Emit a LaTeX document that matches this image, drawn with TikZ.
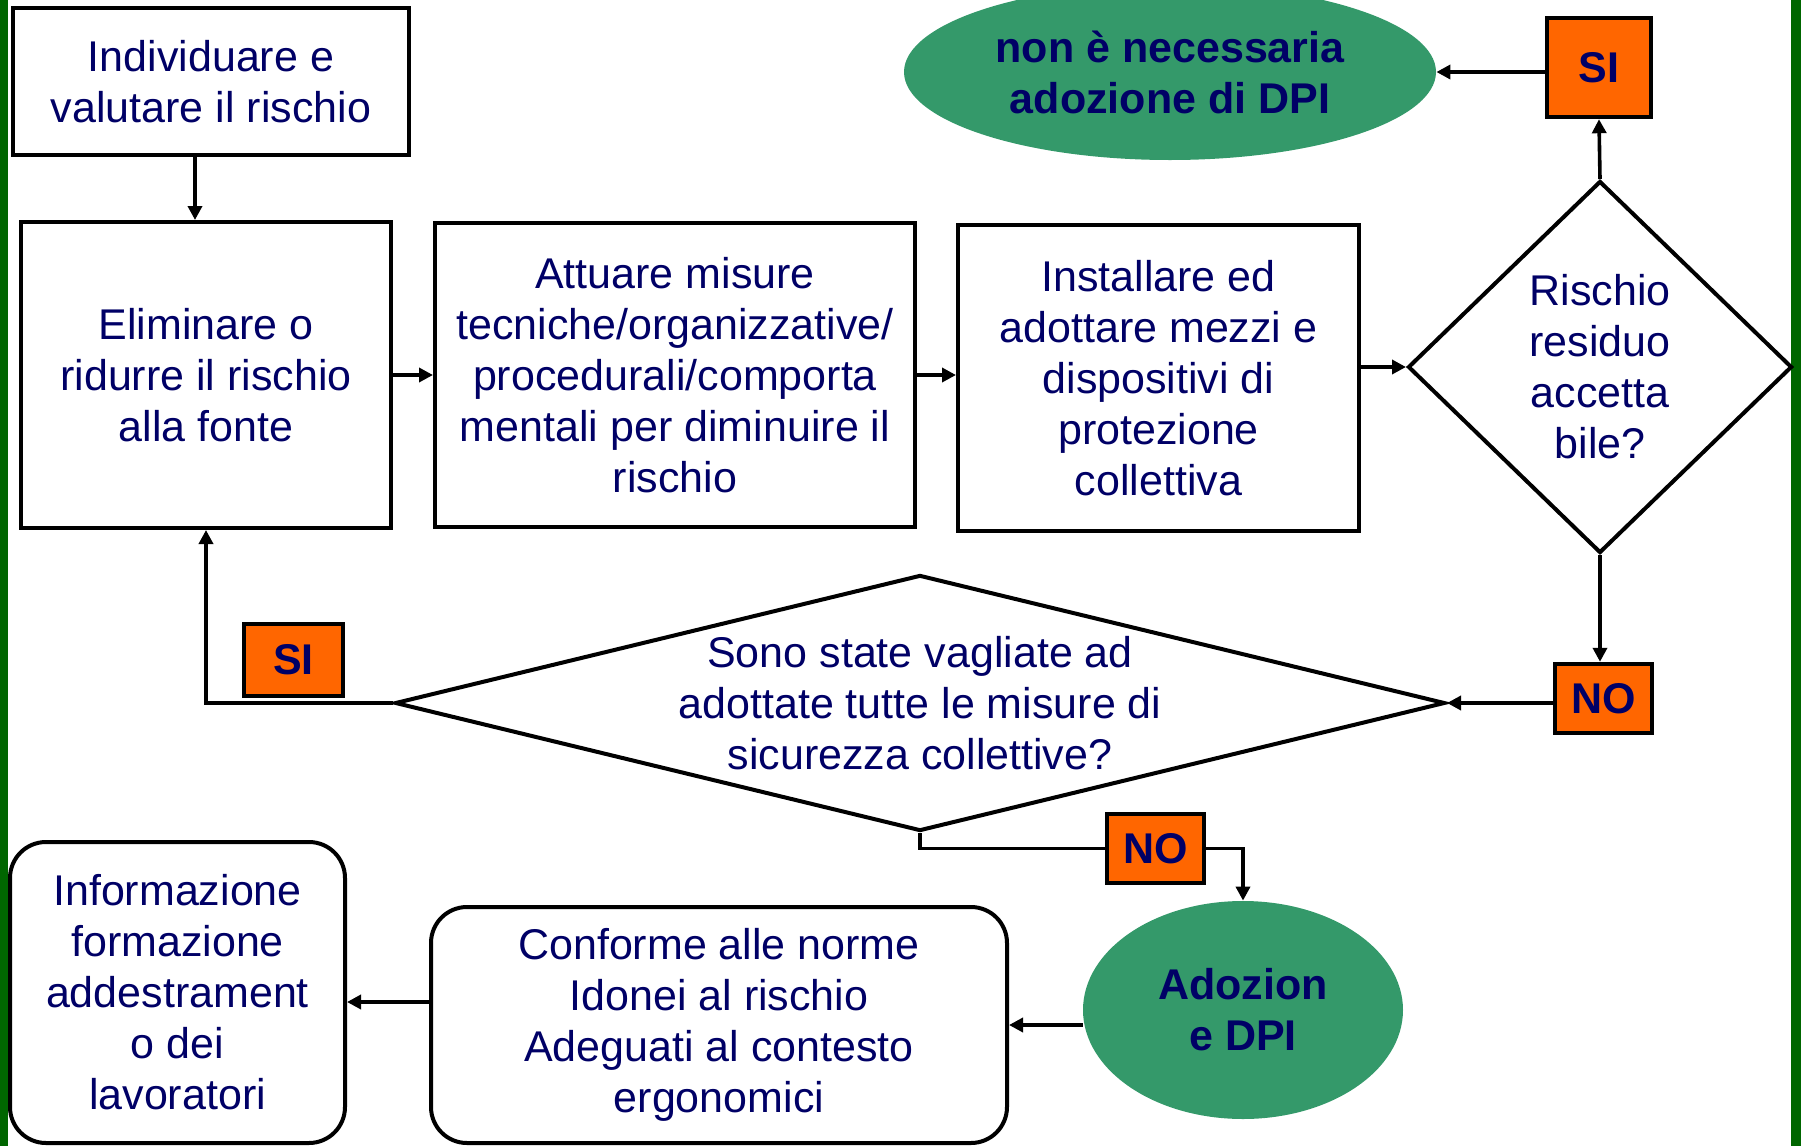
\documentclass[tikz,border=0pt]{standalone}
\usepackage{fontspec}
\setmainfont{Liberation Sans}
\usepackage{xcolor}
\usetikzlibrary{calc,arrows.meta,shapes.geometric}
\definecolor{riskNavy}{RGB}{0,0,102}
\definecolor{riskGreen}{RGB}{52,153,106}
\definecolor{riskOrange}{RGB}{255,102,0}
\definecolor{riskFrame}{RGB}{0,102,0}

\begin{document}
\begin{tikzpicture}[x=0.5pt,y=-0.5pt,
    txt/.style={text=riskNavy, font=\fontsize{21.5}{25.5}\selectfont, align=center},
    boldtxt/.style={txt, font=\fontsize{21.5}{25.5}\selectfont\bfseries},
    stepbox/.style={txt, draw, line width=2pt, inner sep=0pt},
    roundbox/.style={stepbox, rounded corners=18pt},
    choice/.style={txt, draw, shape=diamond, line width=2pt, inner sep=0pt},
    outcome/.style={boldtxt, shape=ellipse, fill=riskGreen, inner sep=0pt},
    answer/.style={boldtxt, draw, fill=riskOrange, line width=2.2pt, inner sep=0pt},
    link/.style={line width=1.8pt, -{Triangle[length=7pt,width=7pt]}},
    wire/.style={line width=1.8pt}]
    \useasboundingbox (0,0) rectangle (1801,1146);
    \fill[riskFrame] (0,0) rectangle (8,1146);
    \fill[riskFrame] (1791,0) rectangle (1801,1146);

    \node[stepbox, minimum width=198pt, minimum height=73.5pt] (ind) at (211,81.5) {Individuare e\\valutare il rischio};
    \node[stepbox, minimum width=185pt, minimum height=153pt] (elim) at (206,375) {Eliminare o\\ridurre il rischio\\alla fonte};
    \node[stepbox, minimum width=240pt, minimum height=152pt] (att) at (675,375) {Attuare misure\\tecniche/organizzative/\\procedurali/comporta\\mentali per diminuire il\\rischio};
    \node[stepbox, minimum width=200.5pt, minimum height=153pt] (inst) at (1158.5,378) {Installare ed\\adottare mezzi e\\dispositivi di\\protezione\\collettiva};
    \node[choice, minimum width=192pt, minimum height=186pt] (ris) at (1600,367) {Rischio\\residuo\\accetta\\bile?};

    \node[answer, minimum width=52pt, minimum height=49.5pt] (sitop) at (1599,67.5) {SI};
    \node[outcome, minimum width=266pt, minimum height=88pt] (nonnec) at (1170,72) {non è necessaria\\adozione di DPI};

    \node[answer, minimum width=48.5pt, minimum height=34.5pt] (noright) at (1603.5,698.5) {NO};
    \node[choice, minimum width=525pt, minimum height=128pt,
        label={[txt]center:Sono state vagliate ad\\adottate tutte le misure di\\sicurezza collettive?}] (sono) at (920,703) {};
    \node[answer, minimum width=49.5pt, minimum height=36pt] (sileft) at (293.5,660) {SI};
    \node[answer, minimum width=48.5pt, minimum height=34.5pt] (nobot) at (1155.5,848.5) {NO};

    \node[outcome, minimum width=160pt, minimum height=109pt] (adoz) at (1243,1010) {Adozion\\e DPI};
    \node[roundbox, minimum width=288pt, minimum height=118pt] (conf) at (719,1025) {Conforme alle norme\\Idonei al rischio\\Adeguati al contesto\\ergonomici};
    \node[roundbox, minimum width=167.5pt, minimum height=150.5pt] (info) at (177.5,992.5) {Informazione\\formazione\\addestrament\\o dei\\lavoratori};

    \draw[link] ([xshift=-8pt]ind.south) -- ([xshift=-8pt]ind.south |- elim.north);
    \draw[link] (elim) -- (att);
    \draw[link] (att.east) -- (att.east -| inst.west);
    \draw[link] (ris.west -| inst.east) -- (ris.west);
    \draw[link] (ris.north) -- (sitop.south);
    \draw[link] (sitop.west |- nonnec.east) -- (nonnec.east);
    \draw[link] (ris.south) -- (ris.south |- noright.north);
    \draw[link] (noright.west |- sono.east) -- (sono.east);
    \draw[link] (sono.west) -| (elim.south);
    \draw[wire] (sono.south) |- (nobot.west);
    \draw[link] (nobot.east) -| (adoz.north);
    \draw[link] (adoz.west |- conf.east) -- (conf.east);
    \draw[link] ($(info.east -| conf.west)+(0,9.5)$) -- ($(info.east)+(0,9.5)$);
\end{tikzpicture}
\end{document}
